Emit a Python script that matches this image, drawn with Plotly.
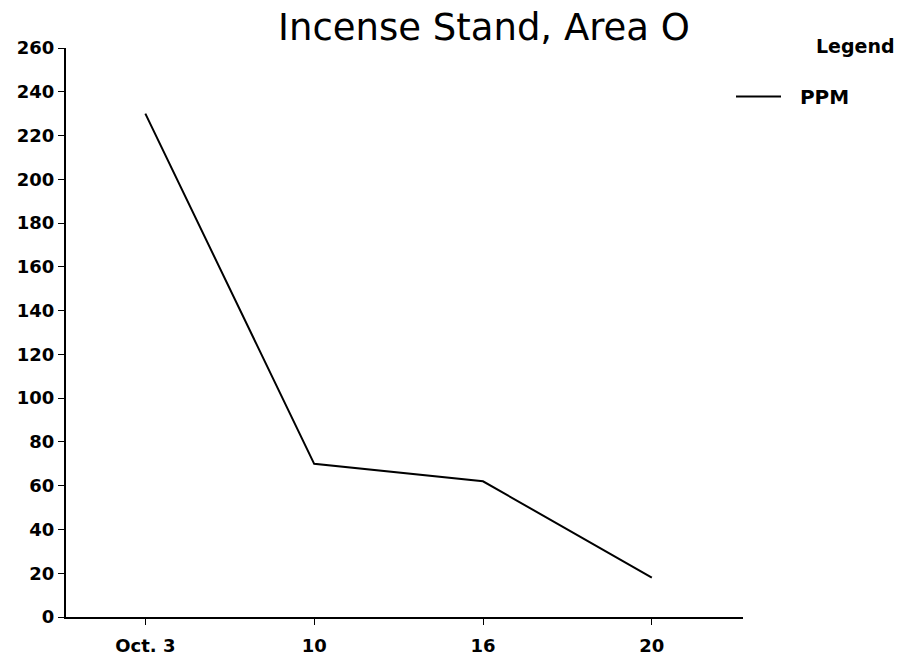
import plotly.graph_objects as go

categories = ["Oct. 3", "10", "16", "20"]
ppm_values = [230, 70, 62, 18]
y_tick_values = list(range(0, 261, 20))

title_text = "Incense Stand, Area O"
series_name = "PPM"
legend_heading = "Legend"

PLOT_L, PLOT_T, PLOT_W, PLOT_H = 66, 48, 677, 569

fig = go.Figure()
fig.add_trace(go.Scatter(
    x=categories, y=ppm_values, mode="lines",
    name="\u00a0\u00a0" + series_name,
    line=dict(color="black", width=2),
))

tick_font = dict(family="DejaVu Sans", size=18, color="black", weight="bold")

fig.update_layout(
    width=900, height=661,
    paper_bgcolor="white", plot_bgcolor="white",
    margin=dict(l=66, r=157, t=48, b=44),
    title=dict(text=title_text, x=484 / 900, xanchor="center", y=1 - 27 / 661,
               yanchor="middle", yref="container", xref="container",
               font=dict(family="DejaVu Sans", size=37, color="black")),
    showlegend=True,
    legend=dict(xref="paper", yref="paper",
                x=(731 - PLOT_L) / PLOT_W, y=1 - (77 - PLOT_T) / PLOT_H,
                xanchor="left", yanchor="top", bgcolor="rgba(0,0,0,0)",
                font=dict(family="DejaVu Sans", size=20, color="black", weight="bold"),
                itemwidth=45),
    annotations=[dict(text=legend_heading, xref="paper", yref="paper",
                      x=(855 - PLOT_L) / PLOT_W, y=1 - (46 - PLOT_T) / PLOT_H,
                      xanchor="center", yanchor="middle", showarrow=False,
                      font=dict(family="DejaVu Sans", size=19, color="black", weight="bold"))],
)

fig.update_xaxes(
    type="category", range=[-0.47, 3.54], automargin=False,
    showline=True, linecolor="black", linewidth=2,
    ticks="outside", ticklen=6, tickcolor="black", tickwidth=1,
    ticklabelstandoff=5,
    showgrid=False, zeroline=False, tickfont=tick_font,
)
fig.update_yaxes(
    range=[0, 260], tickvals=y_tick_values, automargin=False,
    showline=True, linecolor="black", linewidth=2,
    ticks="outside", ticklen=6, tickcolor="black", tickwidth=1,
    showgrid=False, zeroline=False, tickfont=tick_font,
)

page_fix = (
    "document.body.style.margin='0';"
    "document.body.style.overflow='hidden';"
    "document.documentElement.style.overflow='hidden';"
)

fig.write_html("out.html", post_script=page_fix,
               config={"responsive": False, "displayModeBar": False})
